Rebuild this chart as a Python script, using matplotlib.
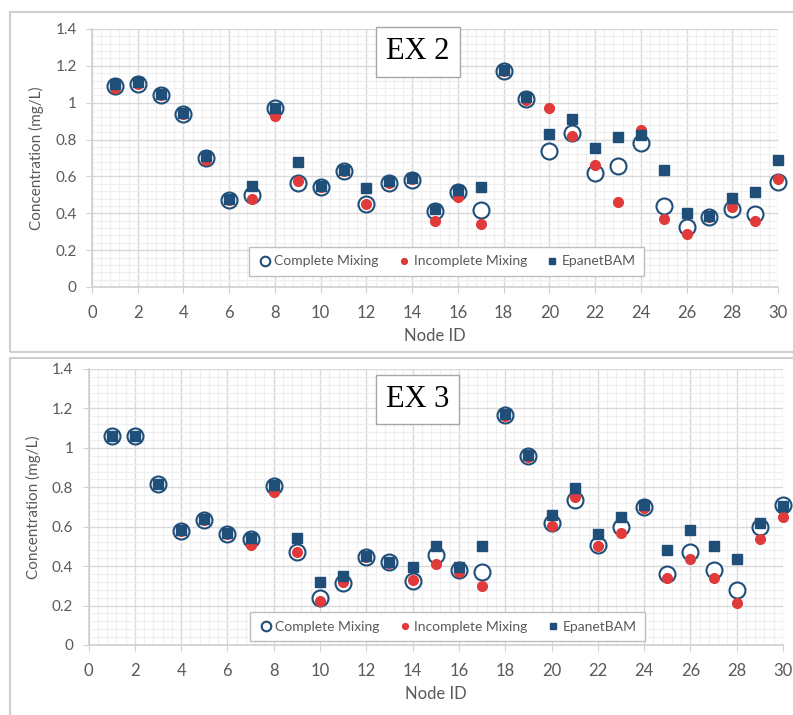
import matplotlib
matplotlib.use("Agg")
import matplotlib.pyplot as plt
from matplotlib.patches import Rectangle
from matplotlib.ticker import MultipleLocator
import numpy as np

plt.rcParams['font.family'] = ['Lato', 'DejaVu Sans']

node_id = np.arange(1, 31)

# EX 2
ex2_complete = [1.09, 1.10, 1.04, 0.94, 0.70, 0.47, 0.50, 0.97, 0.566, 0.54,
                0.63, 0.449, 0.566, 0.58, 0.41, 0.517, 0.42, 1.17, 1.02, 0.74,
                0.836, 0.619, 0.655, 0.78, 0.438, 0.326, 0.38, 0.425, 0.396, 0.57]
ex2_incomplete = [1.08, 1.10, 1.04, 0.94, 0.69, 0.47, 0.48, 0.93, 0.573, 0.54,
                  0.63, 0.449, 0.566, 0.585, 0.36, 0.49, 0.34, 1.17, 1.016, 0.97,
                  0.82, 0.66, 0.46, 0.854, 0.37, 0.29, 0.38, 0.434, 0.358, 0.588]
ex2_epanet = [1.10, 1.11, 1.05, 0.945, 0.71, 0.48, 0.546, 0.97, 0.676, 0.546,
              0.637, 0.535, 0.573, 0.59, 0.425, 0.525, 0.543, 1.18, 1.03, 0.832,
              0.913, 0.754, 0.814, 0.826, 0.637, 0.40, 0.387, 0.483, 0.514, 0.69]

# EX 3
ex3_complete = [1.06, 1.06, 0.815, 0.578, 0.632, 0.565, 0.54, 0.805, 0.473, 0.236,
                0.316, 0.448, 0.42, 0.326, 0.457, 0.38, 0.371, 1.167, 0.958, 0.617,
                0.735, 0.505, 0.597, 0.699, 0.362, 0.47, 0.382, 0.28, 0.597, 0.708]
ex3_incomplete = [1.06, 1.06, 0.815, 0.578, 0.632, 0.565, 0.507, 0.775, 0.47, 0.221,
                  0.32, 0.446, 0.418, 0.332, 0.41, 0.369, 0.298, 1.16, 0.955, 0.603,
                  0.752, 0.50, 0.568, 0.695, 0.342, 0.435, 0.342, 0.211, 0.54, 0.65]
ex3_epanet = [1.062, 1.062, 0.818, 0.582, 0.638, 0.568, 0.545, 0.81, 0.545, 0.318,
              0.352, 0.453, 0.423, 0.395, 0.50, 0.398, 0.50, 1.172, 0.962, 0.659,
              0.795, 0.563, 0.65, 0.709, 0.482, 0.583, 0.50, 0.435, 0.62, 0.707]

navy = '#1f4e79'
red = '#e03a3a'
gray = '#595959'
grid_major = '#d9d9d9'
grid_minor = '#efefef'

fig = plt.figure(figsize=(7.93, 7.15), dpi=100)

# panel frames (pixel coords -> figure fraction)
W, H = 793, 715
for (x0, y0, x1, y1) in [(10, 12, 800, 352), (10, 358, 800, 725)]:
    fig.patches.append(Rectangle((x0 / W, 1 - y1 / H), (x1 - x0) / W, (y1 - y0) / H,
                                 transform=fig.transFigure, fill=False,
                                 edgecolor='#cfcfcf', lw=1.5))

panels = [
    ([92 / W, 1 - 287 / H, 686 / W, 258 / H], 'EX 2', ex2_complete, ex2_incomplete, ex2_epanet,
     (0.475, 0.911), (0.517, 0.099)),
    ([88.5 / W, 1 - 645 / H, 694.5 / W, 276 / H], 'EX 3', ex3_complete, ex3_incomplete, ex3_epanet,
     (0.474, 0.888), (0.517, 0.066)),
]

for rect, title, cm, im, eb, tpos, lpos in panels:
    ax = fig.add_axes(rect)
    ax.plot(node_id, cm, 'o', ms=11.5, mfc='white', mec=navy, mew=1.5,
            label='Complete Mixing', zorder=3, clip_on=False)
    ax.plot(node_id, im, 'o', ms=7, color=red, mec=red,
            label='Incomplete Mixing', zorder=4, clip_on=False)
    ax.plot(node_id, eb, 's', ms=7, color=navy, mec=navy,
            label='EpanetBAM', zorder=5, clip_on=False)

    ax.set_xlim(0, 30)
    ax.set_ylim(0, 1.4)
    ax.xaxis.set_major_locator(MultipleLocator(2))
    ax.xaxis.set_minor_locator(MultipleLocator(0.4))
    ax.yaxis.set_major_locator(MultipleLocator(0.2))
    ax.yaxis.set_minor_locator(MultipleLocator(0.04))
    ax.set_yticks(np.arange(0, 1.41, 0.2))
    ax.set_yticklabels(['0', '0.2', '0.4', '0.6', '0.8', '1', '1.2', '1.4'])
    ax.grid(which='major', color=grid_major, lw=1.0)
    ax.grid(which='minor', color=grid_minor, lw=0.8)
    ax.set_axisbelow(True)

    for s in ['top', 'right']:
        ax.spines[s].set_visible(False)
    for s in ['left', 'bottom']:
        ax.spines[s].set_color('#d0d0d0')
        ax.spines[s].set_linewidth(1.2)
    ax.tick_params(which='major', direction='out', length=4, color='#d0d0d0',
                   labelcolor=gray)
    ax.tick_params(axis='y', labelsize=11, pad=7)
    ax.tick_params(axis='x', labelsize=12, pad=9)
    ax.tick_params(which='minor', length=0)

    ax.set_xlabel('Node ID', color=gray, fontsize=12, labelpad=5)
    ax.set_ylabel('Concentration (mg/L)', color=gray, fontsize=11, labelpad=8)

    ax.text(tpos[0], tpos[1], title, transform=ax.transAxes, ha='center', va='center',
            fontsize=22, family='Liberation Serif', color='black', zorder=6,
            bbox=dict(boxstyle='square,pad=0.33', fc='white', ec='#a6a6a6', lw=1))

    leg = ax.legend(loc='center', bbox_to_anchor=lpos, ncol=3, fontsize=10,
                    frameon=True, fancybox=False, framealpha=1, edgecolor='#bfbfbf',
                    handletextpad=0.2, columnspacing=1.3, handlelength=1.0,
                    markerscale=0.6, borderpad=0.6)
    leg.get_frame().set_linewidth(1)
    leg.set_zorder(7)
    for t in leg.get_texts():
        t.set_color(gray)

fig.savefig('out.png', dpi=100)
